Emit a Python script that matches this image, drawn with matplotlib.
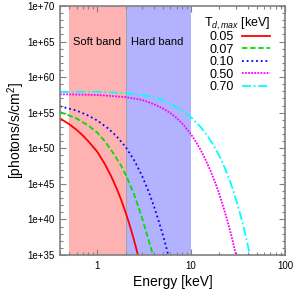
import numpy as np
import matplotlib
matplotlib.use('Agg')
import matplotlib.pyplot as plt
from matplotlib.ticker import LogLocator, FixedLocator, NullFormatter

plt.rcParams['font.family'] = ['Liberation Sans', 'DejaVu Sans']
plt.rcParams['mathtext.fontset'] = 'custom'
plt.rcParams['mathtext.rm'] = 'Liberation Sans'
plt.rcParams['mathtext.it'] = 'Liberation Sans:italic'

# photon spectra, log10 of [photons/s/cm^2]
temps = ['0.05', '0.07', '0.10', '0.50', '0.70']

e_005 = [0.4, 0.5, 0.6, 0.7, 0.8, 1.0, 1.2, 1.4, 1.6, 1.8, 2.0, 2.2, 2.4, 2.6, 2.75]
n_005 = [54.2, 53.4, 52.6, 51.8, 51.0, 49.5, 47.8, 46.1, 44.4, 42.7, 41.0, 39.3, 37.6, 35.9, 34.6]

e_007 = [0.4, 0.6, 0.8, 1.0, 1.2, 1.5, 1.8, 2.1, 2.5, 3.0, 3.5, 4.0]
n_007 = [55.1, 54.2, 53.2, 52.2, 51.0, 49.2, 47.5, 45.7, 43.3, 40.2, 37.2, 34.6]

e_010 = [0.4, 0.6, 0.8, 1.0, 1.3, 1.6, 2.0, 2.5, 3.0, 3.5, 4.0, 4.5, 5.0, 5.5, 5.8]
n_010 = [55.9, 55.3, 54.6, 53.9, 52.8, 51.7, 50.2, 48.2, 46.1, 44.0, 41.9, 39.8, 37.8, 35.8, 34.6]

e_050 = [0.4, 1.0, 2.0, 3.0, 4.0, 5.0, 6.0, 7.0, 8.0, 9.0, 10.0, 11.0, 12.5, 14.0, 16.0,
         18.0, 20.0, 22.5, 25.0, 27.5, 30.0, 30.5]
n_050 = [57.6, 57.5, 57.2, 56.8, 56.2, 55.6, 54.95, 54.25, 53.5, 52.72, 51.92, 51.1, 49.85, 48.6, 46.9,
         45.2, 43.5, 41.35, 39.25, 37.15, 35.05, 34.6]

e_070 = [0.4, 1.0, 2.0, 3.0, 4.0, 5.0, 6.0, 8.0, 10.0, 12.5, 15.0, 17.5, 20.0, 23.0, 26.0,
         29.0, 32.0, 36.0, 40.0, 42.5, 43.0]
n_070 = [57.92, 57.95, 57.75, 57.5, 57.15, 56.75, 56.25, 55.3, 54.35, 53.05, 51.7, 50.3, 48.9, 47.15, 45.35,
         43.5, 41.6, 39.05, 36.45, 34.8, 34.5]

curves = [(e_005, n_005), (e_007, n_007), (e_010, n_010), (e_050, n_050), (e_070, n_070)]
colors = ['#ff0000', '#00e000', '#0000ff', '#ff00ff', '#00ffff']
styles = ['-', (0, (3, 1.5)), (0, (1, 1.6)), (0, (1, 0.7)), (0, (5, 1.5, 1, 1.5))]

soft_band = (0.5, 2.0)
hard_band = (2.0, 10.0)

fig = plt.figure(figsize=(3, 3), dpi=100)
ax = fig.add_axes([0.2, 0.15, 0.75, 0.83])

ax.axvspan(*soft_band, color='#ffb2b2', lw=0, zorder=0)
ax.axvspan(*hard_band, color='#b2b2ff', lw=0, zorder=0)
ax.axvline(soft_band[1], color='#a0a0a0', lw=0.6, zorder=0.5)

for (e, n), c, ls, t in zip(curves, colors, styles, temps):
    ax.plot(e, 10.0 ** np.array(n), color=c, ls=ls, lw=1.3, label=t)

ax.text(0.98, 1e65, 'Soft band', ha='center', va='center', fontsize=8)
ax.text(4.3, 1e65, 'Hard band', ha='center', va='center', fontsize=8)

ax.set_xscale('log')
ax.set_yscale('log')
ax.set_xlim(0.4, 100)
ax.set_ylim(1e35, 1e70)

ax.xaxis.set_major_locator(FixedLocator([1, 10, 100]))
ax.set_xticklabels(['1', '10', '100'])
ax.xaxis.set_minor_locator(LogLocator(base=10, subs=np.arange(2, 10)))
ax.xaxis.set_minor_formatter(NullFormatter())

yt = [10.0 ** k for k in range(35, 71, 5)]
ax.yaxis.set_major_locator(FixedLocator(yt))
ax.set_yticklabels(['1e+%d' % k for k in range(35, 71, 5)])
ax.yaxis.set_minor_locator(FixedLocator([10.0 ** k for k in range(35, 71)]))
ax.yaxis.set_minor_formatter(NullFormatter())

ax.tick_params(which='both', direction='in', top=True, right=True, color='#808080', labelsize=7, pad=4)
ax.tick_params(which='major', length=4, width=0.8)
ax.tick_params(which='minor', length=2.5, width=0.8)
for s in ax.spines.values():
    s.set_color('#808080')
    s.set_linewidth(1.2)

ax.set_xlabel('Energy [keV]', fontsize=10, labelpad=3)
ax.set_ylabel('[photons/s/cm$^2$]', fontsize=10, labelpad=0)

ax.text(0.787, 0.928, r'T$_{\mathit{d,max}}$ [keV]', transform=ax.transAxes,
        ha='center', va='center', fontsize=9)
leg = ax.legend(loc='upper right', bbox_to_anchor=(0.935, 0.898),
                frameon=False, markerfirst=False, fontsize=9,
                handlelength=2.3, handletextpad=0.6, labelspacing=0.03,
                borderaxespad=0, borderpad=0)

fig.savefig('out.png', dpi=100)
